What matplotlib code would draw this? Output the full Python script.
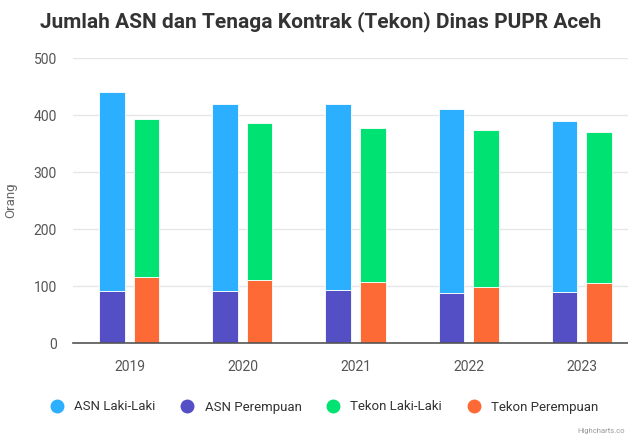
import matplotlib
matplotlib.use('Agg')
import matplotlib.pyplot as plt
from matplotlib.lines import Line2D
import numpy as np

plt.rcParams['font.family'] = ['Roboto', 'DejaVu Sans']

# Data
years = ['2019', '2020', '2021', '2022', '2023']
asn_perempuan = [91, 91, 93, 87, 89]
asn_laki = [349, 329, 327, 323, 301]
tekon_perempuan = [116, 110, 108, 99, 106]
tekon_laki = [277, 276, 270, 275, 265]

series_names = ['ASN Laki-Laki', 'ASN Perempuan', 'Tekon Laki-Laki', 'Tekon Perempuan']
colors = ['#2caffe', '#544fc5', '#00e272', '#fe6a35']

fig = plt.figure(figsize=(6.28, 4.37), dpi=100)
ax = fig.add_axes([0.116, 0.215, 0.884, 0.652])

x = np.arange(len(years))
w = 0.225
off = 0.153

# ASN stack
ax.bar(x - off, asn_perempuan, w, color=colors[1], edgecolor='white', linewidth=0.6, zorder=3)
ax.bar(x - off, asn_laki, w, bottom=asn_perempuan, color=colors[0], edgecolor='white', linewidth=0.6, zorder=3)
# Tekon stack
ax.bar(x + off, tekon_perempuan, w, color=colors[3], edgecolor='white', linewidth=0.6, zorder=3)
ax.bar(x + off, tekon_laki, w, bottom=tekon_perempuan, color=colors[2], edgecolor='white', linewidth=0.6, zorder=3)

ax.set_ylim(0, 500)
ax.set_xlim(-0.5, 4.41)
ax.set_yticks([0, 100, 200, 300, 400, 500])
ax.set_xticks(x)
ax.set_xticklabels(years)
ax.grid(axis='y', color='#e6e6e6', linewidth=1, zorder=0)
for s in ['top', 'right', 'left']:
    ax.spines[s].set_visible(False)
ax.spines['bottom'].set_color('#555555')
ax.spines['bottom'].set_linewidth(1.2)
ax.spines['bottom'].set_zorder(4)
ax.tick_params(axis='y', length=0, labelsize=10, labelcolor='#555555', pad=11.5)
ax.tick_params(axis='x', length=0, labelsize=10, labelcolor='#555555', pad=12)
ax.set_ylabel('Orang', fontsize=9.5, color='#666666')
ax.yaxis.set_label_coords(-0.101, 0.5)

fig.text(321 / 628, 1 - 22 / 437, 'Jumlah ASN dan Tenaga Kontrak (Tekon) Dinas PUPR Aceh',
         ha='center', va='center', fontsize=15, fontweight='bold', color='#333333')

handles = [Line2D([0], [0], marker='o', linestyle='', markersize=9,
                  markerfacecolor=c, markeredgecolor=c) for c in colors]
fig.legend(handles, series_names, loc='center', ncol=4, frameon=False,
           bbox_to_anchor=(321 / 628, 1 - 407 / 437), fontsize=9.5,
           handletextpad=0.3, columnspacing=1.4, labelcolor='#333333')

fig.text(0.995, 1 - 431 / 437, 'Highcharts.co', ha='right', va='center', fontsize=5.5, color='#999999')

plt.savefig('out.png', dpi=100)
